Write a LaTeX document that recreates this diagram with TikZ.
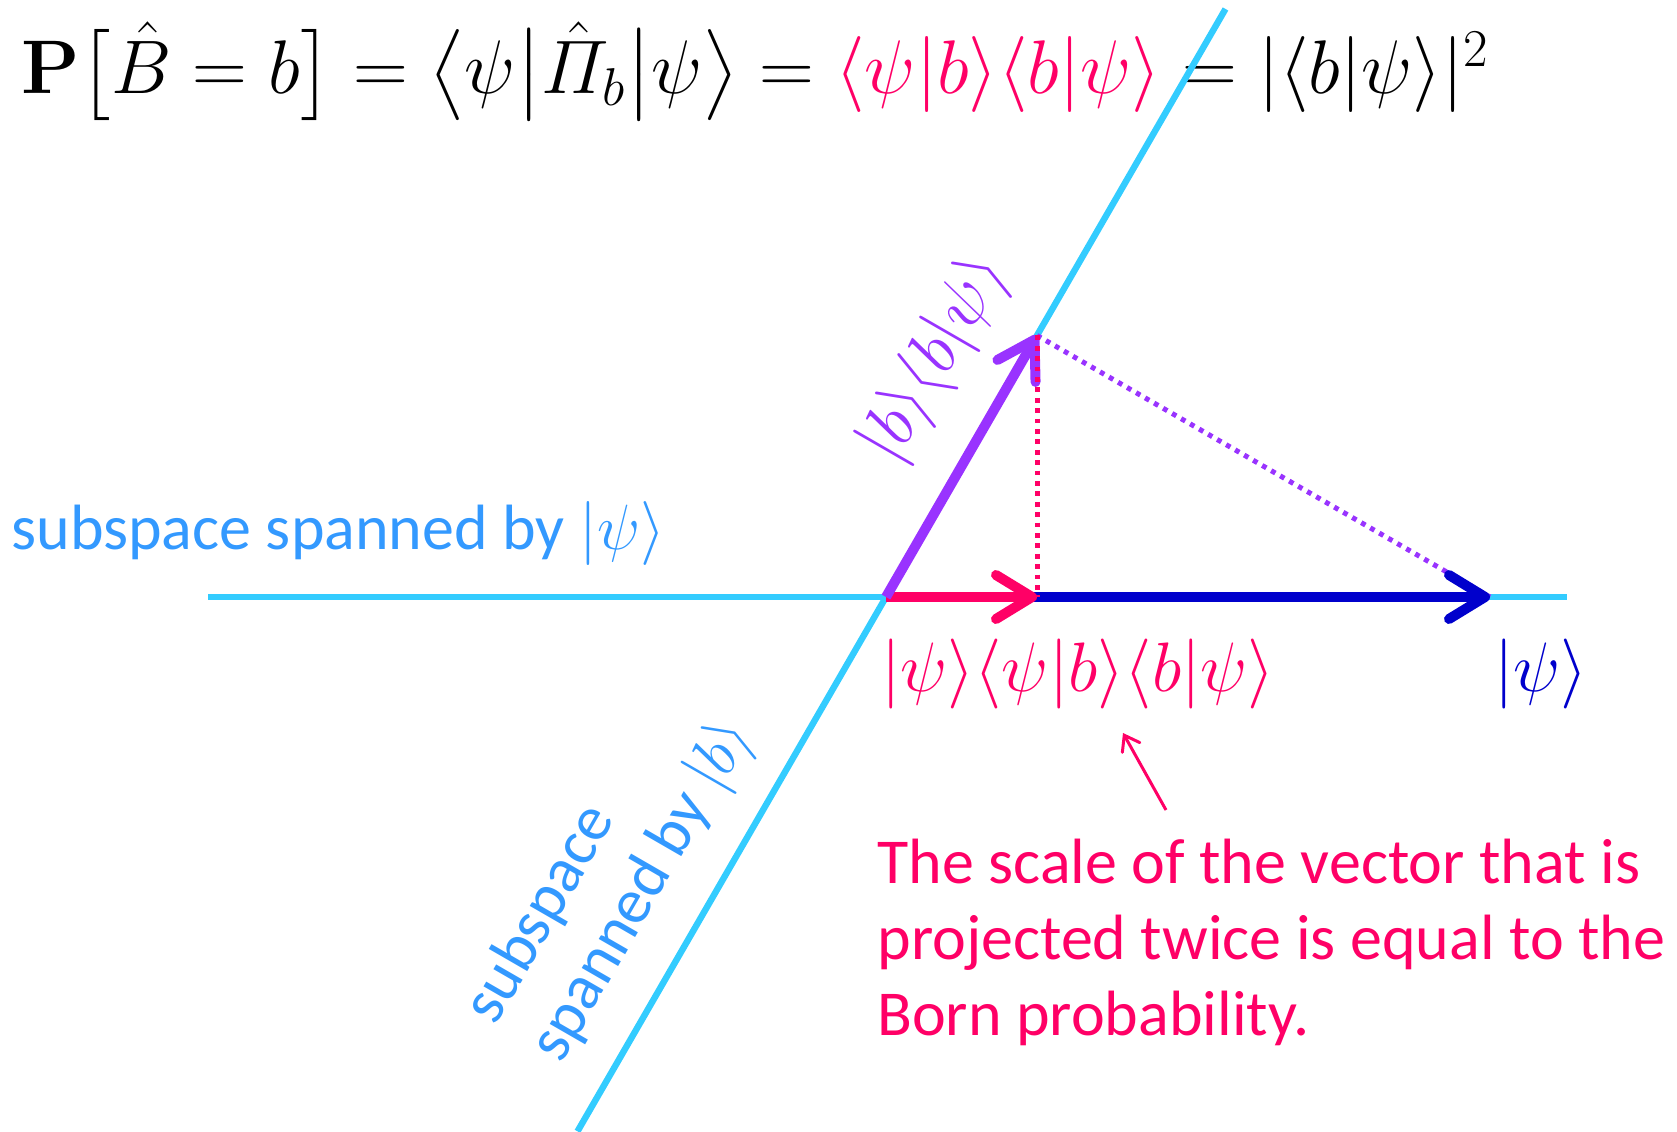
\RequirePackage{fix-cm}
\documentclass[tikz,border=0pt]{standalone}
\usepackage{amsmath,amssymb}
\usepackage[no-math]{fontspec}
\setmainfont{Carlito}
\usepackage{tikz}
\usetikzlibrary{arrows.meta,calc,positioning}
\definecolor{spancyan}{RGB}{51,204,255}
\definecolor{spanblue}{RGB}{51,153,255}
\definecolor{projpink}{RGB}{255,0,102}
\definecolor{projpurple}{RGB}{153,51,255}
\definecolor{psiblue}{RGB}{0,0,204}

\begin{document}
\begin{tikzpicture}[x=0.5pt, y=0.5pt, >={Straight Barb[length=18pt,width=22pt,line cap=round,line join=round]},
	subspace/.style={spancyan, line width=3.2pt},
	vec/.style={->, line width=5pt},
	proj/.style={line width=2.5pt, dash pattern=on 2.4pt off 2.8pt},
	lbl/.style={inner sep=0pt, font=\fontsize{35}{40}\selectfont},
	txt/.style={inner sep=0pt, font=\fontsize{32}{38}\selectfont}]

	\useasboundingbox (0,0) rectangle (1677,1131);

	\node[anchor=base west, inner sep=0pt, font=\fontsize{38}{45}\selectfont] (born) at (21,1037) {$\mathbf{P}\bigl[\hat{B}=b\bigr]=\bigl\langle\psi\big|\hat{\varPi}_b\big|\psi\bigr\rangle=\textcolor{projpink}{\langle\psi|b\rangle\langle b|\psi\rangle}=|\langle b|\psi\rangle|^2$};

	\coordinate (o) at (886,534);
	\coordinate (psi_l) at (208,534);
	\coordinate (psi_r) at (1567,534);
	\coordinate (b_lo) at ($(o)+(240:617)$);
	\coordinate (b_hi) at ($(o)+(60:679)$);
	\coordinate (psi_tip) at ($(o)+(604,0)$);
	\coordinate (b_tip) at ($(o)+(60:302)$);
	\coordinate (bb_tip) at ($(o)+(151,0)$);

	\draw[subspace] (psi_l) -- (psi_r);
	\draw[subspace] (b_lo) -- (b_hi);

	\draw[proj, projpurple] (b_tip) -- (psi_tip);

	\draw[vec, psiblue] (o) -- (psi_tip);
	\draw[vec, projpink] (o) -- (bb_tip);
	\draw[vec, projpurple] (o) -- (b_tip);

	\draw[proj, projpink] (b_tip) -- (bb_tip);

	\node[lbl, projpurple, rotate=60] (bb_lbl) at (936,772) {$|b\rangle\langle b|\psi\rangle$};
	\node[lbl, projpink] (bbpsi_lbl) at (1078,457) {$|\psi\rangle\langle\psi|b\rangle\langle b|\psi\rangle$};
	\node[lbl, psiblue] (psi_lbl) at (1541,457) {$|\psi\rangle$};
	\node[txt, spanblue, anchor=west] (psi_span) at (11,597) {subspace spanned by $|\psi\rangle$};
	\node[txt, spanblue, rotate=60, align=left] (b_span) at (612,258) {subspace\\spanned by $|b\rangle$};

	\node[txt, projpink, anchor=north west, align=left] (note) at (877,292) {The scale of the vector that is\\projected twice is equal to the\\Born probability.};

	\coordinate (ptr) at (1166,321);
	\coordinate (ptr_tip) at (1123,398);
	\draw[projpink, line width=1.5pt, ->, >={Straight Barb[length=7pt,width=10pt,line cap=round]}] (ptr) -- (ptr_tip);
\end{tikzpicture}
\end{document}
